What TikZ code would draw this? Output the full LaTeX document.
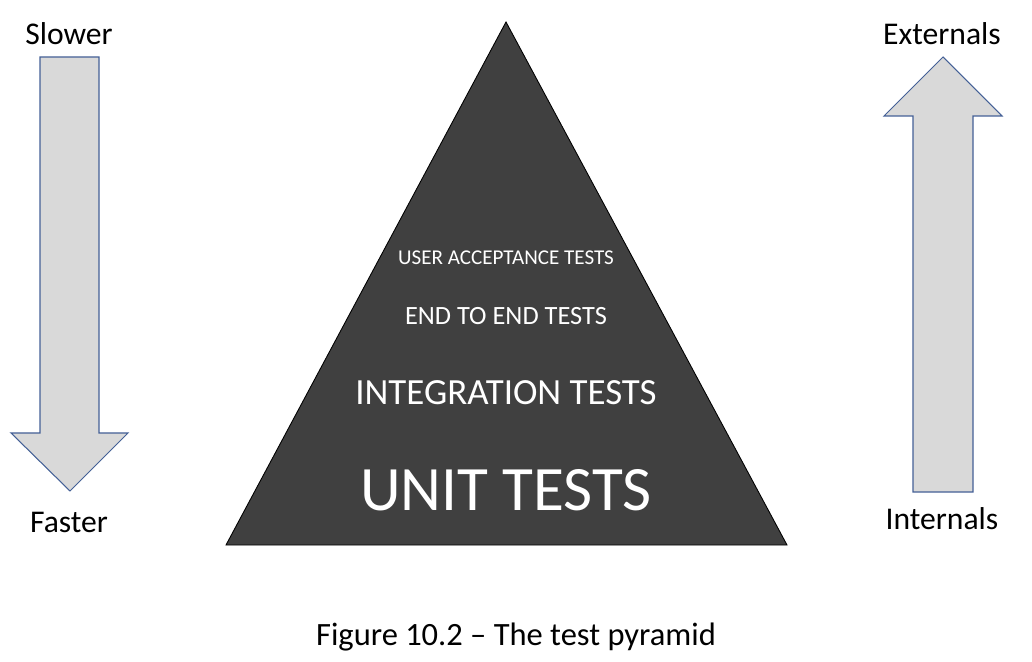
\documentclass[tikz,border=0pt]{standalone}
\usepackage{fontspec}
\setmainfont{Carlito}
\definecolor{pyrgray}{RGB}{64,64,64}
\definecolor{arrfill}{RGB}{217,217,217}
\definecolor{arrline}{RGB}{68,96,150}
\begin{document}
\begin{tikzpicture}[x=0.02cm, y=-0.02cm, line join=miter,
	arrowbody/.style={fill=arrfill, draw=arrline, line width=0.6pt},
	side/.style={anchor=base, inner sep=0pt, font=\fontsize{18}{21}\selectfont},
	tier/.style={anchor=base, inner sep=0pt, text=white}]
	\useasboundingbox (0,0) rectangle (1032,662);
	\path (506,22) coordinate (T)
	(226,545) coordinate (L)
	(787,545) coordinate (R);
	
	% pyramid
	\draw[fill=pyrgray, draw=black, line width=0.5pt] (L) -- (T) -- (R) -- cycle;
	
	% down arrow (left)
	\draw[arrowbody] (40,57) -- (99,57) -- (99,433) -- (128,433) -- (70,491)
		-- (11,433) -- (40,433) -- cycle;
	% up arrow (right)
	\draw[arrowbody] (913,492) -- (913,116) -- (884,116) -- (943,57)
		-- (1002,116) -- (973,116) -- (973,492) -- cycle;
	
	\node[side] (slower) at (69,45) {Slower};
	\node[side] (faster) at (69,532) {Faster};
	\node[side] (ext) at (942,45) {Externals};
	\node[side] (int) at (942,529) {Internals};
	
	\node[tier, font=\fontsize{12}{14}\selectfont] (uat) at (506,265) {USER ACCEPTANCE TESTS};
	\node[tier, font=\fontsize{15}{17}\selectfont] (e2e) at (506,325) {END TO END TESTS};
	\node[tier, font=\fontsize{21}{24}\selectfont] (integ) at (506,405) {INTEGRATION TESTS};
	\node[tier, font=\fontsize{36}{40}\selectfont] (unit) at (506,510) {UNIT TESTS};
	
	\node[side, font=\fontsize{18.5}{21}\selectfont] (caption) at (516,645) {Figure 10.2 -- The test pyramid};
\end{tikzpicture}
\end{document}
